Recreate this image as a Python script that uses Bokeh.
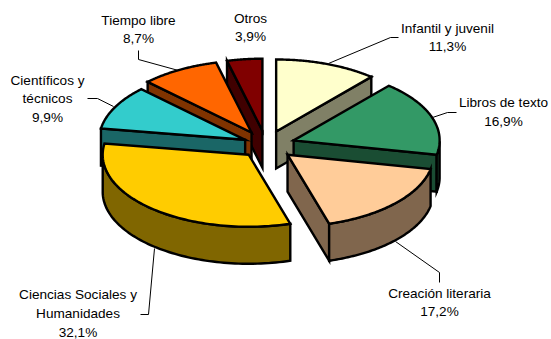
import numpy as np
from bokeh.plotting import figure
from bokeh.core.properties import value
from bokeh.embed import file_html
from bokeh.resources import INLINE

categories = ["Infantil y juvenil", "Libros de texto", "Creación literaria",
              "Ciencias Sociales y Humanidades", "Científicos y técnicos",
              "Tiempo libre", "Otros"]
shares = [11.3, 16.9, 17.2, 32.1, 9.9, 8.7, 3.9]
top_colors = ["#FFFFCC", "#339966", "#FFCC99", "#FFCC00", "#33CCCC", "#FF6600", "#800000"]
wall_colors = ["#808066", "#1A4D33", "#80664D", "#806600", "#1A6666", "#803300", "#400000"]
explode = [0.2, 0.2, 0.2, 0.18, 0.16, 0.2, 0.2]
draw_order = [0, 1, 2, 6, 5, 4, 3]

label_lines = [["Infantil y juvenil"], ["Libros de texto"], ["Creación literaria"],
               ["Ciencias Sociales y", "Humanidades"], ["Científicos y", "técnicos"],
               ["Tiempo libre"], ["Otros"]]
label_centers = [(447, 27.5), (503, 102), (439, 292.5), (77.5, 294), (47, 79.5), (138, 19.5), (250, 17.5)]
leaders = [
    ([328, 390, 398], [63, 37, 37]),
    ([432, 447, 456], [117, 112, 112]),
    ([395, 439, 439], [241, 272, 282]),
    ([154, 148, 140], [248, 314, 314]),
    ([113, 97, 87], [106, 98, 98]),
    ([178, 138, 138], [70, 59, 50]),
]

CX, CY, A, B, DEPTH = 265.5, 144.5, 146.0, 72.0, 37.0

p = figure(width=551, height=339, x_range=(0, 551), y_range=(339, 0),
           output_backend="svg", toolbar_location=None, min_border=0)
p.axis.visible = False
p.grid.visible = False
p.outline_line_color = None
p.background_fill_color = "white"
p.border_fill_color = "white"

edges = np.concatenate([[0.0], np.cumsum(shares)]) * 3.6


def pt(t, r=1.0):
    rad = np.radians(t)
    return r * A * np.sin(rad), -r * B * np.cos(rad)


# leader lines sit under the pie
p.multi_line([l[0] for l in leaders], [l[1] for l in leaders], line_color="black", line_width=1)

stroke = dict(line_color="black", line_width=2.4, line_join="miter")

for i in draw_order:
    t0, t1 = edges[i], edges[i + 1]
    mid = (t0 + t1) / 2
    ox, oy = pt(mid, explode[i])
    ax, ay = CX + ox, CY + oy
    ts = np.linspace(t0, t1, 80)
    ex, ey = pt(ts)
    ex, ey = ax + ex, ay + ey

    # cut faces that look towards the viewer
    for t, show in ((t0, 180 < t0 < 360), (t1, 0 < t1 < 180)):
        if show:
            fx, fy = pt(t)
            xs = [ax, ax + fx, ax + fx, ax]
            ys = [ay, ay + fy, ay + fy + DEPTH, ay + DEPTH]
            p.patch(xs, ys, fill_color=wall_colors[i], **stroke)

    # outer rim, only its front part
    front = (ts >= 90) & (ts <= 270)
    if front.any():
        fx, fy = ex[front], ey[front]
        p.patch(np.r_[fx, fx[::-1]], np.r_[fy, fy[::-1] + DEPTH],
                fill_color=wall_colors[i], **stroke)

    # top surface
    p.patch(np.r_[ax, ex], np.r_[ay, ey], fill_color=top_colors[i], **stroke)

# labels
tx, ty, tt = [], [], []
for lines, (lx, ly), v in zip(label_lines, label_centers, shares):
    rows = lines + [f"{v:.1f}".replace(".", ",") + "%"]
    for k, row in enumerate(rows):
        tx.append(lx)
        ty.append(ly + k * 18.8)
        tt.append(row)
p.text(tx, ty, text=tt, text_font=value("Liberation Sans"), text_font_size="13.6px",
       text_color="black", text_align="center", text_baseline="middle")

open("out.html", "w").write(file_html(p, INLINE))
